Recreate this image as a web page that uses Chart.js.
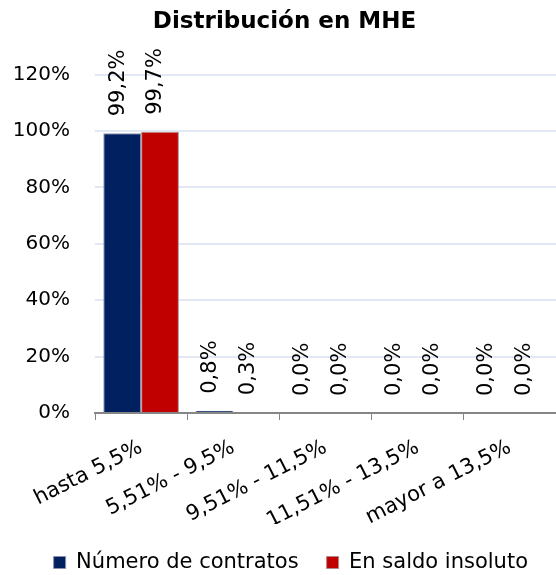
<!DOCTYPE html>
<html><head><meta charset="utf-8">
<script src="https://cdn.jsdelivr.net/npm/chart.js@4"></script>
<style>html,body{margin:0;padding:0;background:#fff}#wrap{width:556px;height:575px}</style>
</head><body><div id="wrap"><canvas id="c" width="556" height="575"></canvas></div>
<script>
const categories = ["hasta 5,5%", "5,51% - 9,5%", "9,51% - 11,5%", "11,51% - 13,5%", "mayor a 13,5%"];
const contratos = [99.2, 0.8, 0.0, 0.0, 0.0];
const saldo = [99.7, 0.3, 0.0, 0.0, 0.0];
const yTicks = [0, 20, 40, 60, 80, 100, 120];
const FONT = "'DejaVu Sans', Verdana, sans-serif";

const labelPlugin = {
  id: 'vlabels',
  afterDatasetsDraw(chart) {
    const ctx = chart.ctx;
    ctx.save();
    ctx.font = "21px " + FONT;
    ctx.fillStyle = "#000";
    ctx.textAlign = "left";
    ctx.textBaseline = "middle";
    chart.data.datasets.forEach((ds, i) => {
      chart.getDatasetMeta(i).data.forEach((bar, j) => {
        const txt = ds.data[j].toFixed(1).replace('.', ',') + '%';
        ctx.save();
        ctx.translate(bar.x - 4, bar.y - 17);
        ctx.rotate(-Math.PI / 2);
        ctx.fillText(txt, 0, 0);
        ctx.restore();
      });
    });
    ctx.restore();
  }
};

new Chart(document.getElementById('c'), {
  type: 'bar',
  data: {
    labels: categories,
    datasets: [
      {label: 'Número de contratos', data: contratos, backgroundColor: '#002060', borderColor: '#8a8fb0', borderWidth: 1, categoryPercentage: 0.82, barPercentage: 1},
      {label: 'En saldo insoluto', data: saldo, backgroundColor: '#C00000', borderColor: '#b08a8a', borderWidth: 1, categoryPercentage: 0.82, barPercentage: 1}
    ]
  },
  options: {
    responsive: false,
    animation: false,
    layout: {padding: {left: 13, right: 0, top: 0, bottom: -8}},
    plugins: {
      title: {display: true, text: 'Distribución en MHE', color: '#000', font: {family: FONT, size: 23, weight: 'bold'}, padding: {top: 8, bottom: 39}},
      legend: {position: 'bottom', align: 'end', labels: {color: '#000', font: {family: FONT, size: 21}, boxWidth: 12, boxHeight: 12, padding: 28}},
      tooltip: {enabled: false}
    },
    scales: {
      x: {
        afterFit(scale) { scale.height = 111; scale.paddingLeft = 0; scale.paddingRight = 0; },
        grid: {drawOnChartArea: false, drawTicks: true, tickLength: 7, color: '#868686'},
        border: {color: '#868686', width: 2},
        ticks: {color: '#000', font: {family: FONT, size: 21}, minRotation: 27, maxRotation: 27, padding: 15, autoSkip: false}
      },
      y: {
        min: 0, max: 120,
        afterBuildTicks(axis) { axis.ticks = yTicks.map(v => ({value: v})); },
        afterFit(scale) { scale.width = 82; },
        grid: {color: '#e3e9f4', lineWidth: 2, drawTicks: false},
        border: {display: false},
        ticks: {color: '#000', font: {family: FONT, size: 20}, padding: 25, callback: v => v + '%'}
      }
    }
  },
  plugins: [labelPlugin]
});
</script></body></html>
